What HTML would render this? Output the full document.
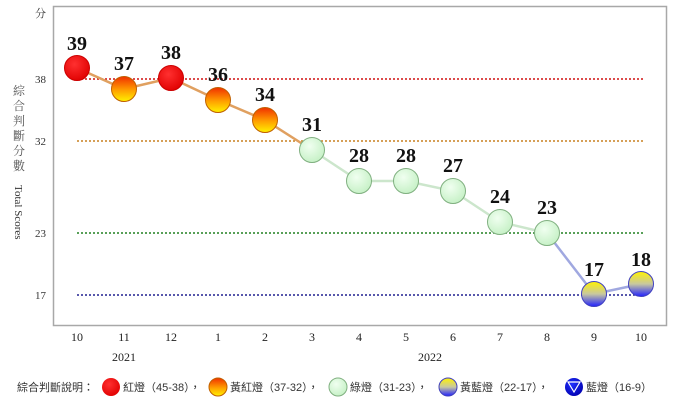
<!DOCTYPE html>
<html><head><meta charset="utf-8"><style>
body{margin:0;background:#fff;}
svg{display:block;font-family:"Liberation Serif","Noto Serif CJK SC",serif;}
</style></head><body>
<svg width="678" height="414" viewBox="0 0 678 414" xmlns="http://www.w3.org/2000/svg">
<defs>
<radialGradient id="red" cx="0.4" cy="0.35" r="0.7"><stop offset="0" stop-color="#ff3030"/><stop offset="1" stop-color="#e00000"/></radialGradient>
<linearGradient id="yr" x1="0" y1="0" x2="0" y2="1"><stop offset="0" stop-color="#f03000"/><stop offset="0.55" stop-color="#ffa000"/><stop offset="1" stop-color="#fff200"/></linearGradient>
<radialGradient id="gr" cx="0.4" cy="0.35" r="0.7"><stop offset="0" stop-color="#f0fff0"/><stop offset="1" stop-color="#c4f0c4"/></radialGradient>
<linearGradient id="yb" x1="0" y1="0" x2="0" y2="1"><stop offset="0" stop-color="#fff200"/><stop offset="0.5" stop-color="#c8c8a0"/><stop offset="1" stop-color="#2020ff"/></linearGradient>
<radialGradient id="bl" cx="0.4" cy="0.35" r="0.7"><stop offset="0" stop-color="#2030ff"/><stop offset="1" stop-color="#0000b0"/></radialGradient>
</defs>
<rect x="53.5" y="6.5" width="613" height="319" fill="#fff" stroke="#a8a8a8" stroke-width="1.5"/>
<g stroke-width="1.5" stroke-dasharray="2,2">
<line x1="77" y1="79" x2="643" y2="79" stroke="#d01010"/>
<line x1="77" y1="141" x2="643" y2="141" stroke="#c88020"/>
<line x1="77" y1="233" x2="643" y2="233" stroke="#208020"/>
<line x1="77" y1="295" x2="643" y2="295" stroke="#202090"/>
</g>
<g font-size="11" fill="#333" text-anchor="end">
<text x="46" y="17">分</text>
<text x="46" y="83">38</text>
<text x="46" y="145">32</text>
<text x="46" y="237">23</text>
<text x="46" y="299">17</text>
</g>
<g font-size="12" fill="#555" text-anchor="middle">
<text x="19" y="95">綜</text><text x="19" y="110">合</text><text x="19" y="125">判</text><text x="19" y="140">斷</text><text x="19" y="155">分</text><text x="19" y="170">數</text>
</g>
<text transform="translate(15,185) rotate(90)" font-size="11" fill="#333">Total Scores</text>
<g stroke-width="2.5" fill="none" stroke-linecap="round">
<polyline points="77,68 124,89 171,78 218,100 265,120 312,150" stroke="#e0a060"/>
<polyline points="312,150 359,181 406,181 453,191 500,222 547,233" stroke="#cce6cc"/>
<polyline points="547,233 594,294 641,284" stroke="#a0a8e0"/>
</g>
<g stroke-width="1">
<circle cx="77" cy="68" r="12.5" fill="url(#red)" stroke="#c00"/>
<circle cx="124" cy="89" r="12.5" fill="url(#yr)" stroke="#c06000"/>
<circle cx="171" cy="78" r="12.5" fill="url(#red)" stroke="#c00"/>
<circle cx="218" cy="100" r="12.5" fill="url(#yr)" stroke="#c06000"/>
<circle cx="265" cy="120" r="12.5" fill="url(#yr)" stroke="#c06000"/>
<circle cx="312" cy="150" r="12.5" fill="url(#gr)" stroke="#80b080"/>
<circle cx="359" cy="181" r="12.5" fill="url(#gr)" stroke="#80b080"/>
<circle cx="406" cy="181" r="12.5" fill="url(#gr)" stroke="#80b080"/>
<circle cx="453" cy="191" r="12.5" fill="url(#gr)" stroke="#80b080"/>
<circle cx="500" cy="222" r="12.5" fill="url(#gr)" stroke="#80b080"/>
<circle cx="547" cy="233" r="12.5" fill="url(#gr)" stroke="#80b080"/>
<circle cx="594" cy="294" r="12.5" fill="url(#yb)" stroke="#4040c0"/>
<circle cx="641" cy="284" r="12.5" fill="url(#yb)" stroke="#4040c0"/>
</g>
<g font-size="20" font-weight="bold" fill="#111" text-anchor="middle">
<text x="77" y="50">39</text><text x="124" y="70">37</text><text x="171" y="59">38</text><text x="218" y="81">36</text><text x="265" y="101">34</text><text x="312" y="131">31</text><text x="359" y="162">28</text><text x="406" y="162">28</text><text x="453" y="172">27</text><text x="500" y="203">24</text><text x="547" y="214">23</text><text x="594" y="276">17</text><text x="641" y="266">18</text>
</g>
<g font-size="12" fill="#222" text-anchor="middle">
<text x="77" y="341">10</text><text x="124" y="341">11</text><text x="171" y="341">12</text><text x="218" y="341">1</text><text x="265" y="341">2</text><text x="312" y="341">3</text><text x="359" y="341">4</text><text x="406" y="341">5</text><text x="453" y="341">6</text><text x="500" y="341">7</text><text x="547" y="341">8</text><text x="594" y="341">9</text><text x="641" y="341">10</text>
<text x="124" y="361">2021</text><text x="430" y="361">2022</text>
</g>
<g font-size="11" fill="#333" font-family="'Liberation Sans','Noto Sans CJK TC',sans-serif">
<text x="17" y="391">綜合判斷說明：</text>
<circle cx="111" cy="387" r="9" fill="url(#red)"/>
<text x="123" y="391">紅燈（45-38），</text>
<circle cx="218" cy="387" r="9" fill="url(#yr)" stroke="#c06000"/>
<text x="230" y="391">黃紅燈（37-32），</text>
<circle cx="338" cy="387" r="9" fill="url(#gr)" stroke="#80b080"/>
<text x="350" y="391">綠燈（31-23），</text>
<circle cx="448" cy="387" r="9" fill="url(#yb)" stroke="#4040c0"/>
<text x="460" y="391">黃藍燈（22-17），</text>
<circle cx="574" cy="387" r="9" fill="url(#bl)"/>
<polygon points="568,382 580,382 574,392" fill="none" stroke="#fff" stroke-width="1.2"/>
<text x="586" y="391">藍燈（16-9）</text>
</g>
</svg>
</body></html>
